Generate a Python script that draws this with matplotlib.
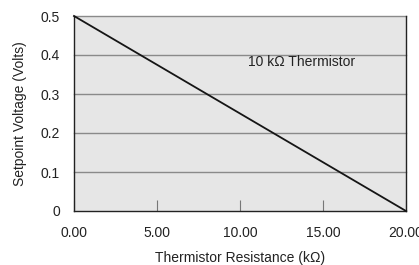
import matplotlib.pyplot as plt

# data: setpoint voltage vs thermistor resistance
resistance = [0.0, 20.0]
voltage = [0.5, 0.0]
xticks = [0, 5, 10, 15, 20]
xticklabels = ['0.00', '5.00', '10.00', '15.00', '20.00']
yticks = [0, 0.1, 0.2, 0.3, 0.4, 0.5]
yticklabels = ['0', '0.1', '0.2', '0.3', '0.4', '0.5']

plt.rcParams['font.family'] = ['Liberation Sans', 'DejaVu Sans']
fs = 10

fig = plt.figure(figsize=(4.19, 2.65), dpi=100)
ax = fig.add_axes([74/419, 1 - 211/265, 332/419, 195/265])
ax.set_facecolor('#e6e6e6')

for y in yticks[1:]:
    ax.axhline(y, color='#8a8a8a', lw=1.0, zorder=1, clip_on=False)

ax.plot(resistance, voltage, color='#151515', lw=1.3, zorder=3, clip_on=False)

ax.set_xlim(0, 20)
ax.set_ylim(0, 0.5)
ax.set_xticks(xticks)
ax.set_xticklabels(xticklabels, fontsize=fs, color='#222222')
ax.set_yticks(yticks)
ax.set_yticklabels(yticklabels, fontsize=fs, color='#222222')
ax.tick_params(axis='x', direction='in', length=8, width=0.8, color='#777777', pad=11)
ax.tick_params(axis='y', length=0, pad=10)

ax.spines['top'].set_visible(False)
for s in ['left', 'bottom', 'right']:
    ax.spines[s].set_color('#222222')
    ax.spines[s].set_linewidth(1.0)

ax.text(13.7, 0.382, '10 k\u03a9 Thermistor', fontsize=fs, color='#222222',
        ha='center', va='center')

ax.set_xlabel('Thermistor Resistance (k\u03a9)', fontsize=fs, color='#222222', labelpad=8)
ax.set_ylabel('Setpoint Voltage (Volts)', fontsize=fs, color='#222222', labelpad=10)

fig.savefig('out.png', dpi=100)
